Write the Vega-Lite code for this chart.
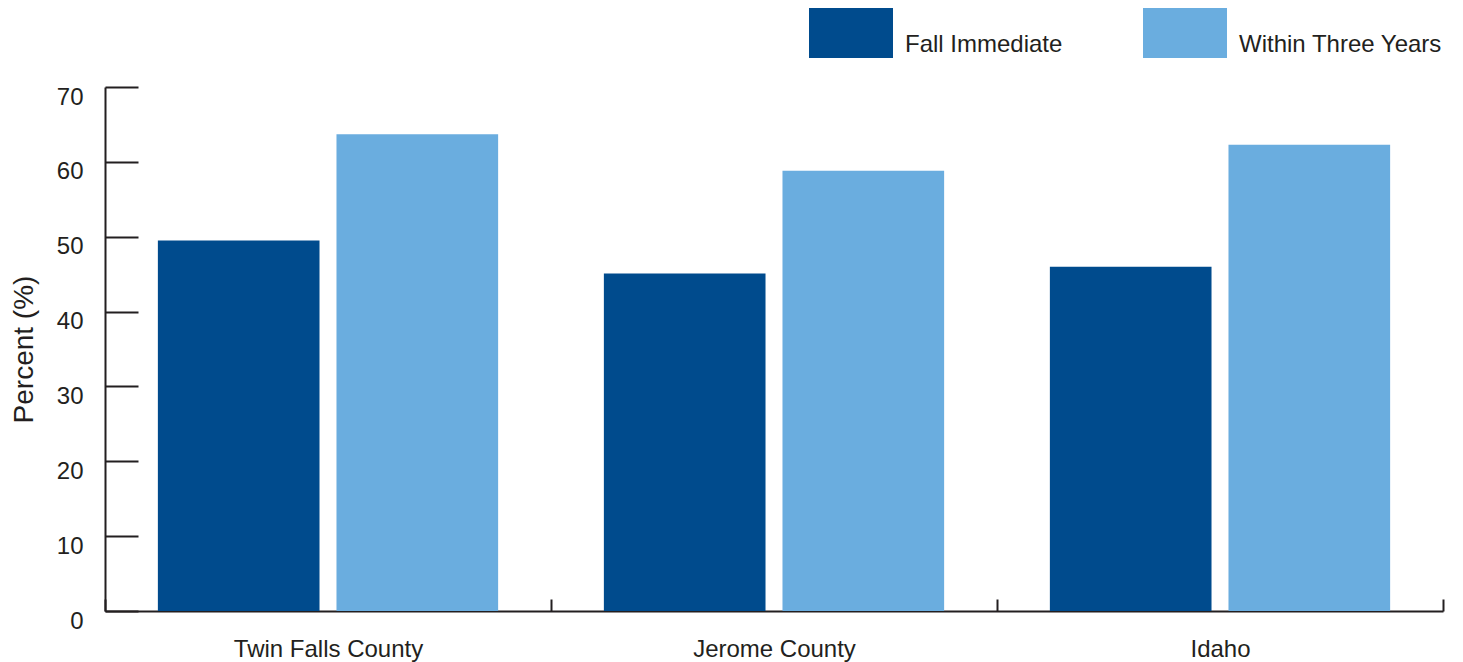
{
  "$schema": "https://vega.github.io/schema/vega-lite/v6.json",
  "autosize": "none",
  "width": 1338,
  "height": 524,
  "padding": {"left": 105, "top": 87, "right": 20, "bottom": 51},
  "background": "white",
  "config": {
    "view": {"stroke": null},
    "font": "Liberation Sans",
    "axis": {"labelFont": "Liberation Sans", "titleFont": "Liberation Sans", "labelColor": "#231F20", "titleColor": "#231F20", "domainColor": "#231F20", "tickColor": "#231F20", "domainWidth": 2, "tickWidth": 2, "grid": false}
  },
  "data": {
    "values": [
      {"region": "Twin Falls County", "measure": "Fall Immediate", "percent": 49.5},
      {"region": "Twin Falls County", "measure": "Within Three Years", "percent": 63.7},
      {"region": "Jerome County", "measure": "Fall Immediate", "percent": 45.1},
      {"region": "Jerome County", "measure": "Within Three Years", "percent": 58.8},
      {"region": "Idaho", "measure": "Fall Immediate", "percent": 46.0},
      {"region": "Idaho", "measure": "Within Three Years", "percent": 62.3}
    ]
  },
  "mark": {"type": "bar", "opacity": 1},
  "encoding": {
    "x": {
      "field": "region",
      "type": "nominal",
      "sort": ["Twin Falls County", "Jerome County", "Idaho"],
      "scale": {"paddingInner": 0, "paddingOuter": 0},
      "axis": {"title": null, "labelAngle": 0, "labelFontSize": 24, "labelLimit": 400, "tickBand": "extent", "tickSize": -12, "labelPadding": 38}
    },
    "xOffset": {
      "field": "measure",
      "type": "nominal",
      "scale": {"paddingInner": 0.095, "paddingOuter": 0.296}
    },
    "y": {
      "field": "percent",
      "type": "quantitative",
      "scale": {"domain": [0, 70], "nice": false},
      "axis": {"title": "Percent (%)", "titleFontSize": 28, "titleFontWeight": "normal", "titlePadding": 18, "labelFontSize": 24, "labelOverlap": false, "labelFlush": false, "labelOffset": 10, "values": [0, 10, 20, 30, 40, 50, 60, 70], "tickSize": -33, "labelPadding": 55}
    },
    "color": {
      "field": "measure",
      "type": "nominal",
      "scale": {"domain": ["Fall Immediate", "Within Three Years"], "range": ["#004B8D", "#6AADDF"]},
      "legend": {
        "title": null,
        "orient": "none",
        "legendX": 704,
        "legendY": -96,
        "direction": "horizontal",
        "symbolType": "M-1,-0.595H1V0.595H-1Z",
        "symbolSize": 7056,
        "symbolStrokeWidth": 0,
        "symbolOpacity": 1,
        "labelFontSize": 24,
        "labelFont": "Liberation Sans",
        "labelColor": "#231F20",
        "labelOffset": 12,
        "labelBaseline": "top",
        "columnPadding": 80,
        "labelLimit": 400
      }
    }
  }
}
